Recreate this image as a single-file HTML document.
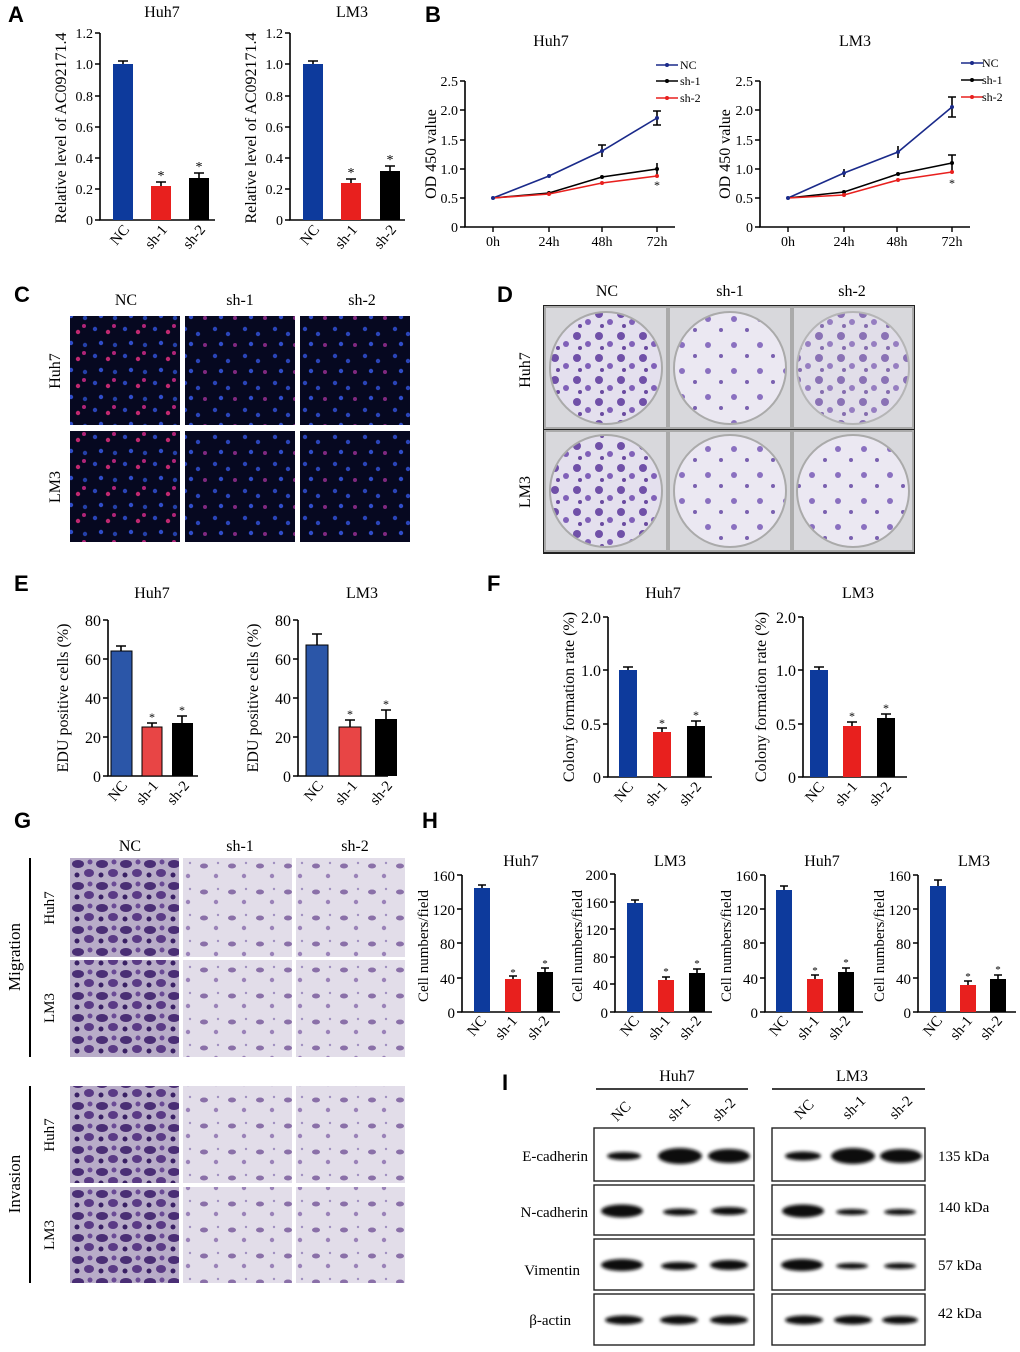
<!DOCTYPE html>
<html><head><meta charset="utf-8"><style>
html,body{margin:0;padding:0;background:#fff}
svg{display:block}
text{font-family:"Liberation Serif",serif;fill:#000}
.L{font-family:"Liberation Sans",sans-serif;font-weight:bold;font-size:22px}
.t{font-size:16px}
.k{font-size:15px}
.ax{stroke:#000;stroke-width:1.6;fill:none}
</style></head><body>
<svg width="1020" height="1352" viewBox="0 0 1020 1352" xmlns="http://www.w3.org/2000/svg">
<defs>
<pattern id="fl1" width="30" height="27" patternUnits="userSpaceOnUse">
<rect width="30" height="27" fill="#060820"/>
<circle cx="5" cy="5" r="2.2" fill="#2a44b8"/><circle cx="18" cy="8" r="2.2" fill="#c02870"/>
<circle cx="11" cy="19" r="2.2" fill="#2f4cc8"/><circle cx="25" cy="21" r="2.2" fill="#2440a8"/>
<circle cx="24" cy="2" r="2" fill="#b02478"/></pattern>
<pattern id="fl2" width="30" height="27" patternUnits="userSpaceOnUse">
<rect width="30" height="27" fill="#060820"/>
<circle cx="5" cy="5" r="2.2" fill="#2a44b8"/><circle cx="18" cy="10" r="2.2" fill="#2a44b8"/>
<circle cx="11" cy="20" r="2.2" fill="#2f4cc8"/><circle cx="25" cy="21" r="2" fill="#802880"/></pattern>
<pattern id="col" width="22" height="22" patternUnits="userSpaceOnUse">
<rect width="22" height="22" fill="#e4e0ee"/>
<circle cx="5" cy="6" r="4" fill="#7050a8"/><circle cx="16" cy="14" r="3" fill="#8060b8"/><circle cx="8" cy="18" r="2" fill="#6a4aa0"/></pattern>
<pattern id="col2" width="26" height="26" patternUnits="userSpaceOnUse">
<rect width="26" height="26" fill="#ebe8f2"/>
<circle cx="6" cy="7" r="3" fill="#8a70c0"/><circle cx="19" cy="18" r="2" fill="#7a60b0"/></pattern>
<pattern id="tw1" width="24" height="22" patternUnits="userSpaceOnUse">
<rect width="24" height="22" fill="#b8acc8"/>
<ellipse cx="6" cy="6" rx="6" ry="4" fill="#4a2e75"/><ellipse cx="17" cy="15" rx="5" ry="4" fill="#5a3a85"/><circle cx="18" cy="4" r="2.5" fill="#6a4a95"/><circle cx="5" cy="17" r="2.5" fill="#3a2065"/></pattern>
<pattern id="tw2" width="28" height="26" patternUnits="userSpaceOnUse">
<rect width="28" height="26" fill="#e2dde9"/>
<ellipse cx="8" cy="8" rx="4" ry="2.5" fill="#8a70a8"/><circle cx="20" cy="18" r="2.2" fill="#9a82b8"/><circle cx="22" cy="5" r="1.2" fill="#a090c0"/></pattern>
<filter id="bl"><feGaussianBlur stdDeviation="1.6"/></filter>
</defs>

<!-- ===== A ===== -->
<text x="8" y="22" class="L">A</text>
<text x="162" y="17" class="t" text-anchor="middle">Huh7</text>
<text x="352" y="17" class="t" text-anchor="middle">LM3</text>
<text transform="translate(66,128) rotate(-90)" class="t" text-anchor="middle">Relative level of AC092171.4</text>
<text transform="translate(256,128) rotate(-90)" class="t" text-anchor="middle">Relative level of AC092171.4</text>
<g id="axA">
<path class="ax" d="M100,33V220H215"/>
<g stroke="#000" stroke-width="1.4"><path d="M95,33H100M95,64H100M95,96H100M95,127H100M95,158H100M95,189H100M95,220H100"/></g>
<g font-size="14" text-anchor="end"><text x="93" y="38">1.2</text><text x="93" y="69">1.0</text><text x="93" y="101">0.8</text><text x="93" y="132">0.6</text><text x="93" y="163">0.4</text><text x="93" y="194">0.2</text><text x="93" y="225">0</text></g>
</g>
<rect x="113" y="64" width="20" height="156" fill="#0d3a9c"/><path d="M118,61H128M123,61V64" class="ax"/>
<rect x="151" y="186" width="20" height="34" fill="#e8201e"/><path d="M156,182H166M161,182V186" class="ax"/><text x="161" y="180" font-size="14" text-anchor="middle">*</text>
<rect x="189" y="178" width="20" height="42" fill="#000"/><path d="M194,173H204M199,173V178" class="ax"/><text x="199" y="171" font-size="14" text-anchor="middle">*</text>
<g font-size="15" text-anchor="end"><text transform="translate(130,230) rotate(-50)">NC</text><text transform="translate(168,230) rotate(-50)">sh-1</text><text transform="translate(206,230) rotate(-50)">sh-2</text></g>
<g transform="translate(190,0)"><use href="#axA"/>
<rect x="113" y="64" width="20" height="156" fill="#0d3a9c"/><path d="M118,61H128M123,61V64" class="ax"/>
<rect x="151" y="183" width="20" height="37" fill="#e8201e"/><path d="M156,179H166M161,179V183" class="ax"/><text x="161" y="177" font-size="14" text-anchor="middle">*</text>
<rect x="190" y="171" width="20" height="49" fill="#000"/><path d="M195,166H205M200,166V171" class="ax"/><text x="200" y="164" font-size="14" text-anchor="middle">*</text>
<g font-size="15" text-anchor="end"><text transform="translate(130,230) rotate(-50)">NC</text><text transform="translate(168,230) rotate(-50)">sh-1</text><text transform="translate(207,230) rotate(-50)">sh-2</text></g></g>

<!-- ===== B ===== -->
<text x="425" y="22" class="L">B</text>
<text x="551" y="46" class="t" text-anchor="middle">Huh7</text>
<text x="855" y="46" class="t" text-anchor="middle">LM3</text>
<text transform="translate(436,154) rotate(-90)" class="t" text-anchor="middle">OD 450 value</text>
<text transform="translate(730,154) rotate(-90)" class="t" text-anchor="middle">OD 450 value</text>
<g id="axB">
<path class="ax" d="M465,81V227H675"/>
<g stroke="#000" stroke-width="1.4"><path d="M460,81H465M460,110H465M460,140H465M460,169H465M460,198H465M460,227H465M493,227V232M549,227V232M602,227V232M657,227V232"/></g>
<g font-size="14" text-anchor="end"><text x="458" y="86">2.5</text><text x="458" y="115">2.0</text><text x="458" y="145">1.5</text><text x="458" y="174">1.0</text><text x="458" y="203">0.5</text><text x="458" y="232">0</text></g>
<g font-size="14" text-anchor="middle"><text x="493" y="246">0h</text><text x="549" y="246">24h</text><text x="602" y="246">48h</text><text x="657" y="246">72h</text></g>
</g>
<g fill="none" stroke-width="1.6">
<polyline stroke="#1a2a8a" points="493,198 549,176 602,151 657,118"/>
<polyline stroke="#000" points="493,198 549,193 602,177 657,169"/>
<polyline stroke="#e8201e" points="493,198 549,194 602,183 657,176"/>
</g>
<path class="ax" stroke-width="1.2" d="M602,145V157M657,111V125M657,163V175M653,111H661M653,125H661M598,145H606"/>
<g fill="#1a2a8a"><circle cx="493" cy="198" r="2"/><circle cx="549" cy="176" r="2"/><circle cx="602" cy="151" r="2"/><circle cx="657" cy="118" r="2"/></g>
<g fill="#000"><circle cx="549" cy="193" r="2"/><circle cx="602" cy="177" r="2"/><circle cx="657" cy="169" r="2"/></g>
<g fill="#e8201e"><circle cx="549" cy="194" r="2"/><circle cx="602" cy="183" r="2"/><circle cx="657" cy="176" r="2"/></g>
<text x="657" y="189" font-size="12" text-anchor="middle">*</text>
<g font-size="12"><path d="M656,65H678" stroke="#1a2a8a" stroke-width="1.6"/><circle cx="667" cy="65" r="2" fill="#1a2a8a"/><text x="680" y="69">NC</text>
<path d="M656,81H678" stroke="#000" stroke-width="1.6"/><circle cx="667" cy="81" r="2"/><text x="680" y="85">sh-1</text>
<path d="M656,98H678" stroke="#e8201e" stroke-width="1.6"/><circle cx="667" cy="98" r="2" fill="#e8201e"/><text x="680" y="102">sh-2</text></g>

<g transform="translate(295,0)"><use href="#axB"/></g>
<g fill="none" stroke-width="1.6">
<polyline stroke="#1a2a8a" points="788,198 844,173 898,152 952,107"/>
<polyline stroke="#000" points="788,198 844,192 898,174 952,163"/>
<polyline stroke="#e8201e" points="788,198 844,195 898,180 952,172"/>
</g>
<path class="ax" stroke-width="1.2" d="M844,169V177M898,146V158M952,97V117M948,97H956M948,117H956M952,155V171M948,155H956"/>
<g fill="#1a2a8a"><circle cx="788" cy="198" r="2"/><circle cx="844" cy="173" r="2"/><circle cx="898" cy="152" r="2"/><circle cx="952" cy="107" r="2"/></g>
<g fill="#000"><circle cx="844" cy="192" r="2"/><circle cx="898" cy="174" r="2"/><circle cx="952" cy="163" r="2"/></g>
<g fill="#e8201e"><circle cx="844" cy="195" r="2"/><circle cx="898" cy="180" r="2"/><circle cx="952" cy="172" r="2"/></g>
<text x="952" y="187" font-size="12" text-anchor="middle">*</text>
<g font-size="12"><path d="M961,63H983" stroke="#1a2a8a" stroke-width="1.6"/><circle cx="972" cy="63" r="2" fill="#1a2a8a"/><text x="982" y="67">NC</text>
<path d="M961,80H983" stroke="#000" stroke-width="1.6"/><circle cx="972" cy="80" r="2"/><text x="982" y="84">sh-1</text>
<path d="M961,97H983" stroke="#e8201e" stroke-width="1.6"/><circle cx="972" cy="97" r="2" fill="#e8201e"/><text x="982" y="101">sh-2</text></g>

<!-- ===== C ===== -->
<text x="14" y="302" class="L">C</text>
<g class="t" text-anchor="middle"><text x="126" y="305">NC</text><text x="240" y="305">sh-1</text><text x="362" y="305">sh-2</text></g>
<text transform="translate(60,371) rotate(-90)" class="t" text-anchor="middle">Huh7</text>
<text transform="translate(60,487) rotate(-90)" class="t" text-anchor="middle">LM3</text>
<rect x="70" y="316" width="110" height="109" fill="url(#fl1)"/>
<rect x="185" y="316" width="110" height="109" fill="url(#fl2)"/>
<rect x="300" y="316" width="110" height="109" fill="url(#fl2)"/>
<rect x="70" y="431" width="110" height="111" fill="url(#fl1)"/>
<rect x="185" y="431" width="110" height="111" fill="url(#fl2)"/>
<rect x="300" y="431" width="110" height="111" fill="url(#fl2)"/>

<!-- ===== D ===== -->
<text x="497" y="302" class="L">D</text>
<g class="t" text-anchor="middle"><text x="607" y="296">NC</text><text x="730" y="296">sh-1</text><text x="852" y="296">sh-2</text></g>
<text transform="translate(530,370) rotate(-90)" class="t" text-anchor="middle">Huh7</text>
<text transform="translate(530,492) rotate(-90)" class="t" text-anchor="middle">LM3</text>
<rect x="543" y="305" width="372" height="249" fill="#222"/>
<g stroke="#aaa" stroke-width="2">
<rect x="545" y="307" width="122" height="121" fill="#d8d8dc"/><rect x="669" y="307" width="122" height="121" fill="#d8d8dc"/><rect x="793" y="307" width="120" height="121" fill="#d8d8dc"/>
<rect x="545" y="431" width="122" height="120" fill="#d8d8dc"/><rect x="669" y="431" width="122" height="120" fill="#d8d8dc"/><rect x="793" y="431" width="120" height="120" fill="#d8d8dc"/>
<circle cx="606" cy="368" r="56" fill="url(#col)"/><circle cx="730" cy="368" r="56" fill="url(#col2)"/><circle cx="853" cy="368" r="56" fill="url(#col)" opacity="0.75"/>
<circle cx="606" cy="491" r="56" fill="url(#col)"/><circle cx="730" cy="491" r="56" fill="url(#col2)"/><circle cx="853" cy="491" r="56" fill="url(#col2)"/>
</g>

<!-- ===== E ===== -->
<text x="14" y="591" class="L">E</text>
<text x="152" y="598" class="t" text-anchor="middle">Huh7</text>
<text x="362" y="598" class="t" text-anchor="middle">LM3</text>
<text transform="translate(68,698) rotate(-90)" class="t" text-anchor="middle">EDU positive cells (%)</text>
<text transform="translate(258,698) rotate(-90)" class="t" text-anchor="middle">EDU positive cells (%)</text>
<g id="axE">
<path class="ax" d="M108,620V776H198"/>
<g stroke="#000" stroke-width="1.4"><path d="M103,620H108M103,659H108M103,698H108M103,737H108M103,776H108"/></g>
<g font-size="16" text-anchor="end"><text x="101" y="626">80</text><text x="101" y="665">60</text><text x="101" y="704">40</text><text x="101" y="743">20</text><text x="101" y="782">0</text></g>
</g>
<rect x="111" y="651" width="21" height="125" fill="#2b56a8" stroke="#000"/><path d="M116,646H126M121,646V651" class="ax"/>
<rect x="142" y="727" width="20" height="49" fill="#e84545" stroke="#000"/><path d="M147,723H157M152,723V727" class="ax"/><text x="152" y="721" font-size="12" text-anchor="middle">*</text>
<rect x="172" y="723" width="21" height="53" fill="#000"/><path d="M177,716H187M182,716V723" class="ax"/><text x="182" y="714" font-size="12" text-anchor="middle">*</text>
<g font-size="15" text-anchor="end"><text transform="translate(128,786) rotate(-50)">NC</text><text transform="translate(159,786) rotate(-50)">sh-1</text><text transform="translate(190,786) rotate(-50)">sh-2</text></g>
<g transform="translate(190,0)"><use href="#axE"/>
<rect x="116" y="645" width="22" height="131" fill="#2b56a8" stroke="#000"/><path d="M122,634H132M127,634V645" class="ax"/>
<rect x="149" y="727" width="22" height="49" fill="#e84545" stroke="#000"/><path d="M155,720H165M160,720V727" class="ax"/><text x="160" y="718" font-size="12" text-anchor="middle">*</text>
<rect x="185" y="719" width="22" height="57" fill="#000"/><path d="M191,710H201M196,710V719" class="ax"/><text x="196" y="708" font-size="12" text-anchor="middle">*</text>
<g font-size="15" text-anchor="end"><text transform="translate(134,786) rotate(-50)">NC</text><text transform="translate(168,786) rotate(-50)">sh-1</text><text transform="translate(203,786) rotate(-50)">sh-2</text></g></g>

<!-- ===== F ===== -->
<text x="487" y="591" class="L">F</text>
<text x="663" y="598" class="t" text-anchor="middle">Huh7</text>
<text x="858" y="598" class="t" text-anchor="middle">LM3</text>
<text transform="translate(574,697) rotate(-90)" class="t" text-anchor="middle">Colony formation rate (%)</text>
<text transform="translate(766,697) rotate(-90)" class="t" text-anchor="middle">Colony formation rate (%)</text>
<g id="axF">
<path class="ax" d="M608,617V777H712"/>
<g stroke="#000" stroke-width="1.4"><path d="M603,617H608M603,670H608M603,724H608M603,777H608"/></g>
<g font-size="16" text-anchor="end"><text x="601" y="623">2.0</text><text x="601" y="676">1.0</text><text x="601" y="730">0.5</text><text x="601" y="783">0</text></g>
</g>
<rect x="619" y="670" width="18" height="107" fill="#0d3a9c"/><path d="M623,667H633M628,667V670" class="ax"/>
<rect x="653" y="732" width="18" height="45" fill="#e8201e"/><path d="M657,728H667M662,728V732" class="ax"/><text x="662" y="727" font-size="12" text-anchor="middle">*</text>
<rect x="687" y="726" width="18" height="51" fill="#000"/><path d="M691,721H701M696,721V726" class="ax"/><text x="696" y="719" font-size="12" text-anchor="middle">*</text>
<g font-size="15" text-anchor="end"><text transform="translate(634,787) rotate(-50)">NC</text><text transform="translate(668,787) rotate(-50)">sh-1</text><text transform="translate(702,787) rotate(-50)">sh-2</text></g>
<g transform="translate(195,0)"><use href="#axF"/>
<rect x="615" y="670" width="18" height="107" fill="#0d3a9c"/><path d="M619,667H629M624,667V670" class="ax"/>
<rect x="648" y="726" width="18" height="51" fill="#e8201e"/><path d="M652,722H662M657,722V726" class="ax"/><text x="657" y="720" font-size="12" text-anchor="middle">*</text>
<rect x="682" y="718" width="18" height="59" fill="#000"/><path d="M686,714H696M691,714V718" class="ax"/><text x="691" y="712" font-size="12" text-anchor="middle">*</text>
<g font-size="15" text-anchor="end"><text transform="translate(630,787) rotate(-50)">NC</text><text transform="translate(663,787) rotate(-50)">sh-1</text><text transform="translate(697,787) rotate(-50)">sh-2</text></g></g>

<!-- ===== G ===== -->
<text x="14" y="828" class="L">G</text>
<g class="t" text-anchor="middle"><text x="130" y="851">NC</text><text x="240" y="851">sh-1</text><text x="355" y="851">sh-2</text></g>
<text transform="translate(20,957) rotate(-90)" font-size="17" text-anchor="middle">Migration</text>
<text transform="translate(20,1184) rotate(-90)" font-size="17" text-anchor="middle">Invasion</text>
<path d="M30,858V1057M30,1086V1283" stroke="#000" stroke-width="2"/>
<g font-size="15" text-anchor="middle"><text transform="translate(54,908) rotate(-90)">Huh7</text><text transform="translate(54,1008) rotate(-90)">LM3</text>
<text transform="translate(54,1135) rotate(-90)">Huh7</text><text transform="translate(54,1235) rotate(-90)">LM3</text></g>
<rect x="70" y="858" width="109" height="99" fill="url(#tw1)"/>
<rect x="183" y="858" width="109" height="99" fill="url(#tw2)"/>
<rect x="296" y="858" width="109" height="99" fill="url(#tw2)"/>
<rect x="70" y="960" width="109" height="97" fill="url(#tw1)"/>
<rect x="183" y="960" width="109" height="97" fill="url(#tw2)"/>
<rect x="296" y="960" width="109" height="97" fill="url(#tw2)"/>
<rect x="70" y="1086" width="109" height="97" fill="url(#tw1)"/>
<rect x="183" y="1086" width="109" height="97" fill="url(#tw2)"/>
<rect x="296" y="1086" width="109" height="97" fill="url(#tw2)"/>
<rect x="70" y="1187" width="109" height="96" fill="url(#tw1)"/>
<rect x="183" y="1187" width="109" height="96" fill="url(#tw2)"/>
<rect x="296" y="1187" width="109" height="96" fill="url(#tw2)"/>

<!-- ===== H ===== -->
<text x="422" y="828" class="L">H</text>
<g class="t" text-anchor="middle"><text x="521" y="866">Huh7</text><text x="670" y="866">LM3</text><text x="822" y="866">Huh7</text><text x="974" y="866">LM3</text></g>
<g class="k" text-anchor="middle"><text transform="translate(428,946) rotate(-90)">Cell numbers/field</text><text transform="translate(582,946) rotate(-90)">Cell numbers/field</text><text transform="translate(731,946) rotate(-90)">Cell numbers/field</text><text transform="translate(884,946) rotate(-90)">Cell numbers/field</text></g>
<g id="axH">
<path class="ax" d="M462,875V1012H560"/>
<g stroke="#000" stroke-width="1.4"><path d="M457,875H462M457,909H462M457,943H462M457,978H462M457,1012H462"/></g>
<g font-size="15" text-anchor="end"><text x="455" y="881">160</text><text x="455" y="915">120</text><text x="455" y="949">80</text><text x="455" y="984">40</text><text x="455" y="1018">0</text></g>
</g>
<rect x="474" y="888" width="16" height="124" fill="#0d3a9c"/><path d="M478,885H486M482,885V888" class="ax"/>
<rect x="505" y="979" width="16" height="33" fill="#e8201e"/><path d="M509,976H517M513,976V979" class="ax"/><text x="513" y="976" font-size="11" text-anchor="middle">*</text>
<rect x="537" y="972" width="16" height="40" fill="#000"/><path d="M541,968H549M545,968V972" class="ax"/><text x="545" y="967" font-size="11" text-anchor="middle">*</text>
<g font-size="15" text-anchor="end"><text transform="translate(487,1021) rotate(-50)">NC</text><text transform="translate(518,1021) rotate(-50)">sh-1</text><text transform="translate(550,1021) rotate(-50)">sh-2</text></g>
<!-- chart 2 -->
<path class="ax" d="M615,874V1012H712"/>
<g stroke="#000" stroke-width="1.4"><path d="M610,874H615M610,902H615M610,929H615M610,957H615M610,984H615M610,1012H615"/></g>
<g font-size="15" text-anchor="end"><text x="608" y="880">200</text><text x="608" y="908">160</text><text x="608" y="935">120</text><text x="608" y="963">80</text><text x="608" y="990">40</text><text x="608" y="1018">0</text></g>
<rect x="627" y="903" width="16" height="109" fill="#0d3a9c"/><path d="M631,900H639M635,900V903" class="ax"/>
<rect x="658" y="980" width="16" height="32" fill="#e8201e"/><path d="M662,977H670M666,977V980" class="ax"/><text x="666" y="975" font-size="11" text-anchor="middle">*</text>
<rect x="689" y="973" width="16" height="39" fill="#000"/><path d="M693,969H701M697,969V973" class="ax"/><text x="697" y="967" font-size="11" text-anchor="middle">*</text>
<g font-size="15" text-anchor="end"><text transform="translate(640,1021) rotate(-50)">NC</text><text transform="translate(671,1021) rotate(-50)">sh-1</text><text transform="translate(702,1021) rotate(-50)">sh-2</text></g>
<!-- chart 3 -->
<g transform="translate(303,0)"><use href="#axH"/></g>
<rect x="776" y="890" width="16" height="122" fill="#0d3a9c"/><path d="M780,886H788M784,886V890" class="ax"/>
<rect x="807" y="979" width="16" height="33" fill="#e8201e"/><path d="M811,975H819M815,975V979" class="ax"/><text x="815" y="974" font-size="11" text-anchor="middle">*</text>
<rect x="838" y="972" width="16" height="40" fill="#000"/><path d="M842,968H850M846,968V972" class="ax"/><text x="846" y="966" font-size="11" text-anchor="middle">*</text>
<g font-size="15" text-anchor="end"><text transform="translate(789,1021) rotate(-50)">NC</text><text transform="translate(820,1021) rotate(-50)">sh-1</text><text transform="translate(851,1021) rotate(-50)">sh-2</text></g>
<!-- chart 4 -->
<g transform="translate(456,0)"><use href="#axH"/></g>
<rect x="930" y="886" width="16" height="126" fill="#0d3a9c"/><path d="M934,880H942M938,880V886" class="ax"/>
<rect x="960" y="985" width="16" height="27" fill="#e8201e"/><path d="M964,981H972M968,981V985" class="ax"/><text x="968" y="980" font-size="11" text-anchor="middle">*</text>
<rect x="990" y="979" width="16" height="33" fill="#000"/><path d="M994,975H1002M998,975V979" class="ax"/><text x="998" y="973" font-size="11" text-anchor="middle">*</text>
<g font-size="15" text-anchor="end"><text transform="translate(943,1021) rotate(-50)">NC</text><text transform="translate(973,1021) rotate(-50)">sh-1</text><text transform="translate(1003,1021) rotate(-50)">sh-2</text></g>

<!-- ===== I ===== -->
<text x="502" y="1090" class="L">I</text>
<g class="t" text-anchor="middle"><text x="677" y="1081">Huh7</text><text x="852" y="1081">LM3</text></g>
<path d="M596,1089H748M772,1089H925" stroke="#000" stroke-width="1.6"/>
<g font-size="15"><text transform="translate(617,1122) rotate(-45)">NC</text><text transform="translate(673,1122) rotate(-45)">sh-1</text><text transform="translate(718,1122) rotate(-45)">sh-2</text>
<text transform="translate(800,1120) rotate(-45)">NC</text><text transform="translate(848,1120) rotate(-45)">sh-1</text><text transform="translate(895,1120) rotate(-45)">sh-2</text></g>
<g fill="#fff" stroke="#222" stroke-width="1.4">
<rect x="594" y="1128" width="160" height="53"/><rect x="772" y="1128" width="153" height="53"/>
<rect x="594" y="1185" width="160" height="50"/><rect x="772" y="1185" width="153" height="50"/>
<rect x="594" y="1239" width="160" height="51"/><rect x="772" y="1239" width="153" height="51"/>
<rect x="594" y="1294" width="160" height="51"/><rect x="772" y="1294" width="153" height="51"/>
</g>
<g fill="#111" filter="url(#bl)">
<ellipse cx="624" cy="1156" rx="17" ry="4"/><ellipse cx="680" cy="1156" rx="22" ry="8"/><ellipse cx="729" cy="1156" rx="21" ry="7"/>
<ellipse cx="803" cy="1156" rx="18" ry="4.5"/><ellipse cx="853" cy="1156" rx="22" ry="8"/><ellipse cx="901" cy="1156" rx="21" ry="7"/>
<ellipse cx="622" cy="1211" rx="21" ry="6.5"/><ellipse cx="680" cy="1212" rx="17" ry="3.5"/><ellipse cx="729" cy="1211" rx="18" ry="4"/>
<ellipse cx="803" cy="1211" rx="21" ry="6.5"/><ellipse cx="852" cy="1212" rx="16" ry="3"/><ellipse cx="900" cy="1212" rx="16" ry="3"/>
<ellipse cx="622" cy="1265" rx="21" ry="6"/><ellipse cx="679" cy="1266" rx="18" ry="4"/><ellipse cx="729" cy="1265" rx="19" ry="5"/>
<ellipse cx="802" cy="1265" rx="21" ry="6"/><ellipse cx="852" cy="1266" rx="16" ry="3"/><ellipse cx="900" cy="1266" rx="16" ry="3"/>
<ellipse cx="624" cy="1320" rx="19" ry="4.5"/><ellipse cx="679" cy="1320" rx="19" ry="4.5"/><ellipse cx="729" cy="1320" rx="19" ry="4.5"/>
<ellipse cx="804" cy="1320" rx="19" ry="4.5"/><ellipse cx="853" cy="1320" rx="19" ry="4.5"/><ellipse cx="900" cy="1320" rx="18" ry="4"/>
</g>
<g class="k" text-anchor="end"><text x="588" y="1161">E-cadherin</text><text x="588" y="1217">N-cadherin</text><text x="580" y="1275">Vimentin</text><text x="571" y="1325">β-actin</text></g>
<g class="k"><text x="938" y="1161">135 kDa</text><text x="938" y="1212">140 kDa</text><text x="938" y="1270">57 kDa</text><text x="938" y="1318">42 kDa</text></g>
</svg>
</body></html>
